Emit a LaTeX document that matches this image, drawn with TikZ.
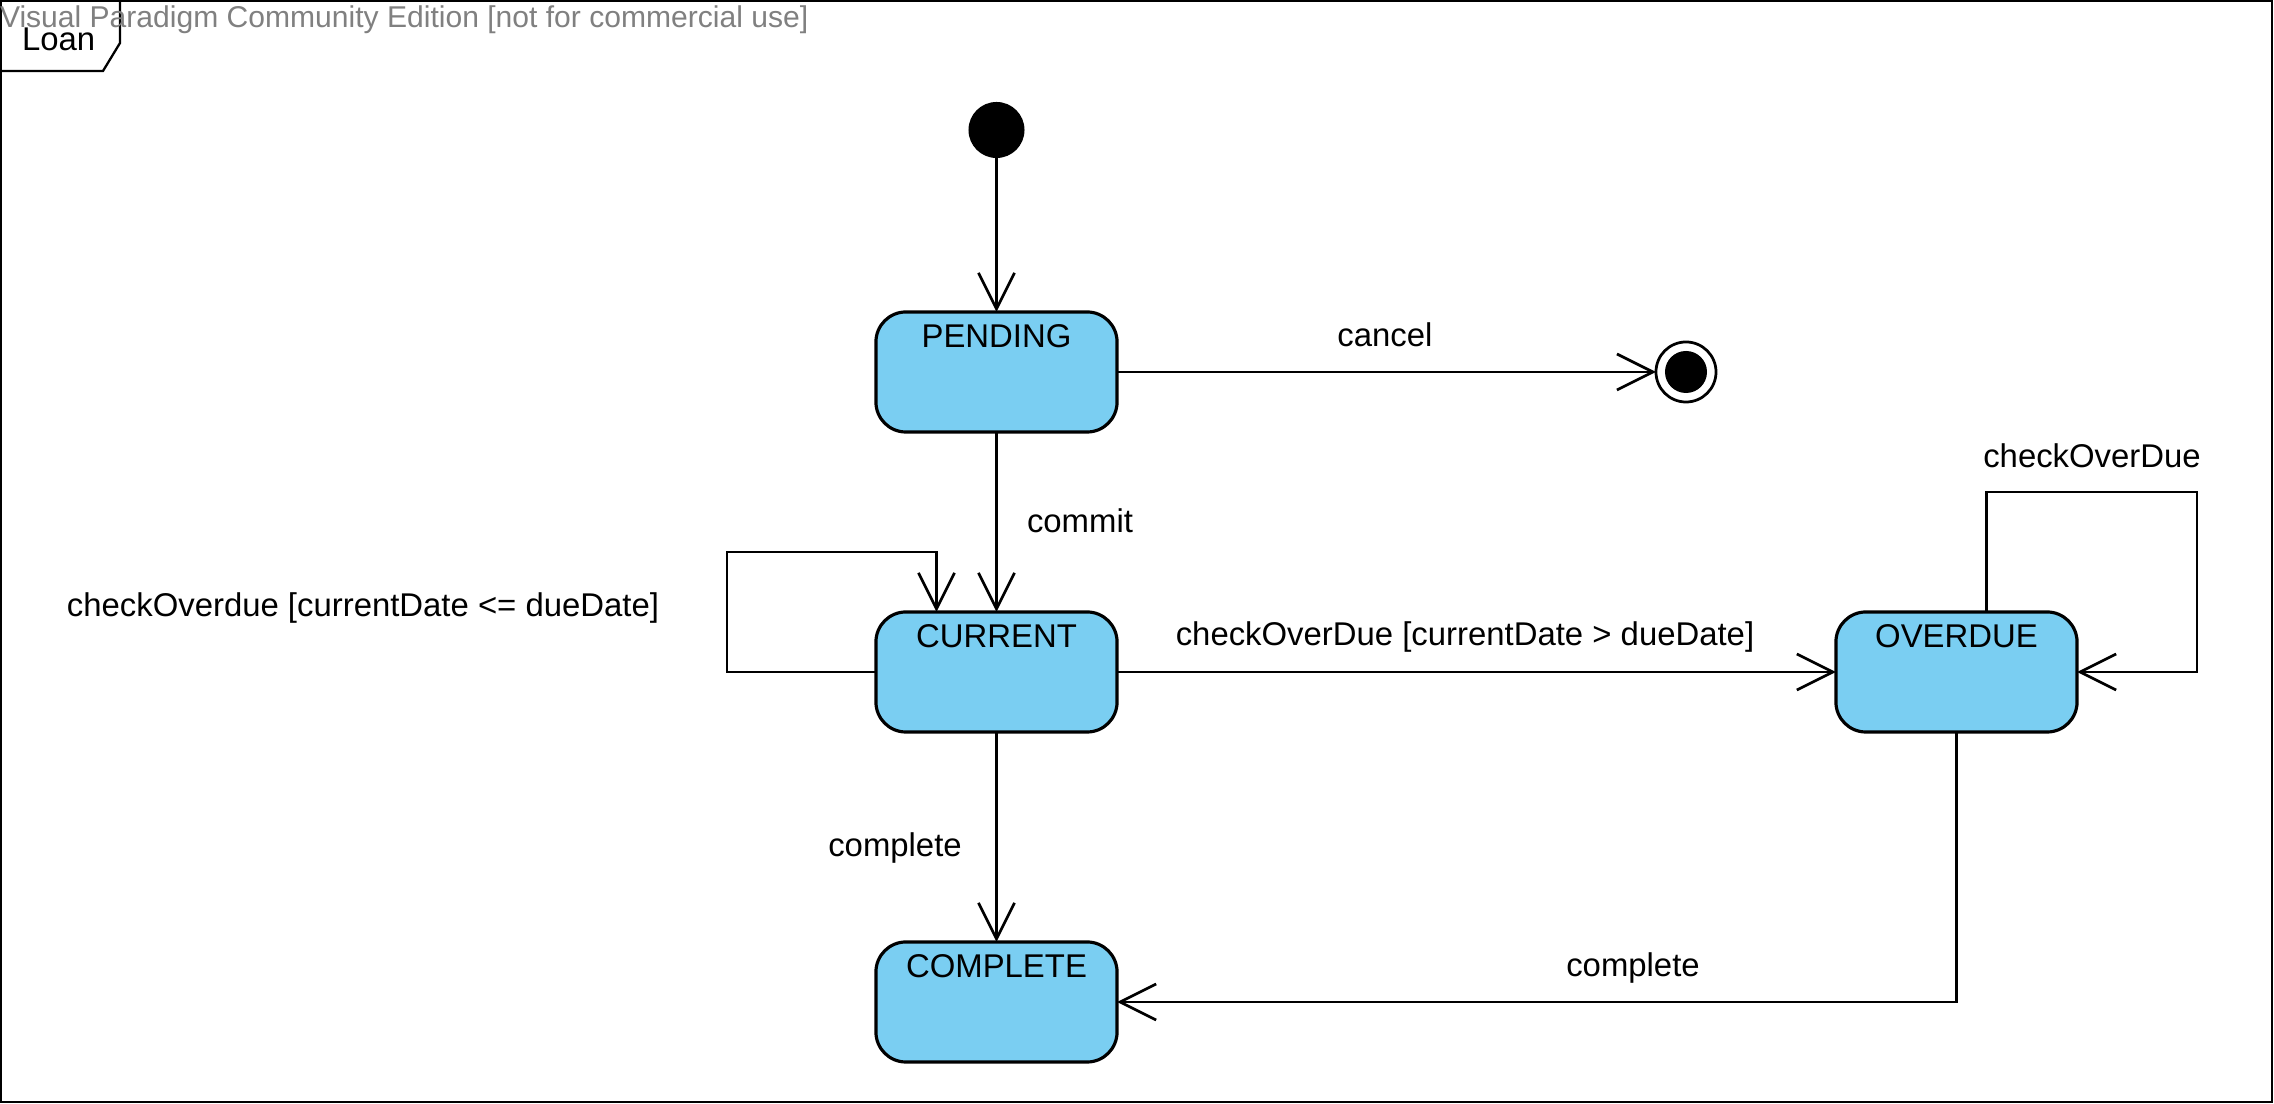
\documentclass[tikz,border=0pt]{standalone}
\usepackage{fontspec}
\setmainfont{Liberation Sans}
\usetikzlibrary{arrows.meta,calc}
\definecolor{statefill}{HTML}{7ACEF2}
\definecolor{wmgray}{HTML}{808080}
\begin{document}
\begin{tikzpicture}[x=0.01cm,y=-0.01cm,
  every node/.style={inner sep=0pt,outer sep=0pt},
  lbl/.style={font=\fontsize{9.35pt}{11pt}\selectfont,anchor=base},
  statebox/.style={draw,line width=0.9pt,fill=statefill,rounded corners=0.3cm,
    minimum width=2.41cm,text height=0.36cm,text depth=0.84cm,
    font=\fontsize{9.35pt}{11pt}\selectfont},
  trans/.style={line width=0.78pt,-{Straight Barb[length=0.36cm,width=0.36cm,line width=0.78pt]}},
  initstate/.style={circle,fill=black,minimum size=0.56cm},
  finalouter/.style={circle,draw,line width=0.78pt,minimum size=0.6cm},
  finalinner/.style={circle,fill=black,minimum size=0.42cm}]
\useasboundingbox (0,0) rectangle (2274,1104);

% frame and its name tab
\draw[line width=0.65pt] (1,1) rectangle (2272,1102);
\draw[line width=0.65pt] (1,71) -- (103,71) -- (120,43) -- (120,1);
\node[lbl,anchor=base west] (loan) at (22,51) {Loan};
\node[anchor=base west,text=wmgray,font=\fontsize{8.55pt}{10pt}\selectfont] (wm) at (0,28)
  {Visual Paradigm Community Edition [not for commercial use]};

% states
\node[initstate] (init) at (996.5,130) {};
\node[statebox] (pend) at (996.5,372) {PENDING};
\node[statebox] (curr) at (996.5,672) {CURRENT};
\node[statebox] (over) at (1956.5,672) {OVERDUE};
\node[statebox] (comp) at (996.5,1002) {COMPLETE};
\node[finalouter] (fin) at (1686,372) {};
\node[finalinner] (fincore) at (fin.center) {};

% transitions
\draw[trans] (init) -- (pend.north);
\draw[trans] (pend.east) -- (fin.west);
\node[lbl] (lcancel) at (1385,347) {cancel};

\draw[trans] (pend.south) -- (curr.north);
\node[lbl,anchor=base west] (lcommit) at (1027,533) {commit};

\draw[trans] (curr.west) -- ++(-149,0) |- ($(curr.north)+(-60,-60)$) -- ($(curr.north)+(-60,0)$);
\node[lbl] (lcheckle) at (363,617) {checkOverdue [currentDate <= dueDate]};

\draw[trans] (curr.east) -- (over.west);
\node[lbl] (lcheckgt) at (1465,646) {checkOverDue [currentDate > dueDate]};

\draw[trans] ($(over.north)+(30,0)$) -- ++(0,-120) -| ($(over.east)+(120,0)$) -- (over.east);
\node[lbl] (lcheckself) at (2092,468) {checkOverDue};

\draw[trans] (curr.south) -- (comp.north);
\node[lbl] (lcomp1) at (895,857) {complete};

\draw[trans] (over.south) |- (comp.east);
\node[lbl] (lcomp2) at (1633,977) {complete};
\end{tikzpicture}
\end{document}
